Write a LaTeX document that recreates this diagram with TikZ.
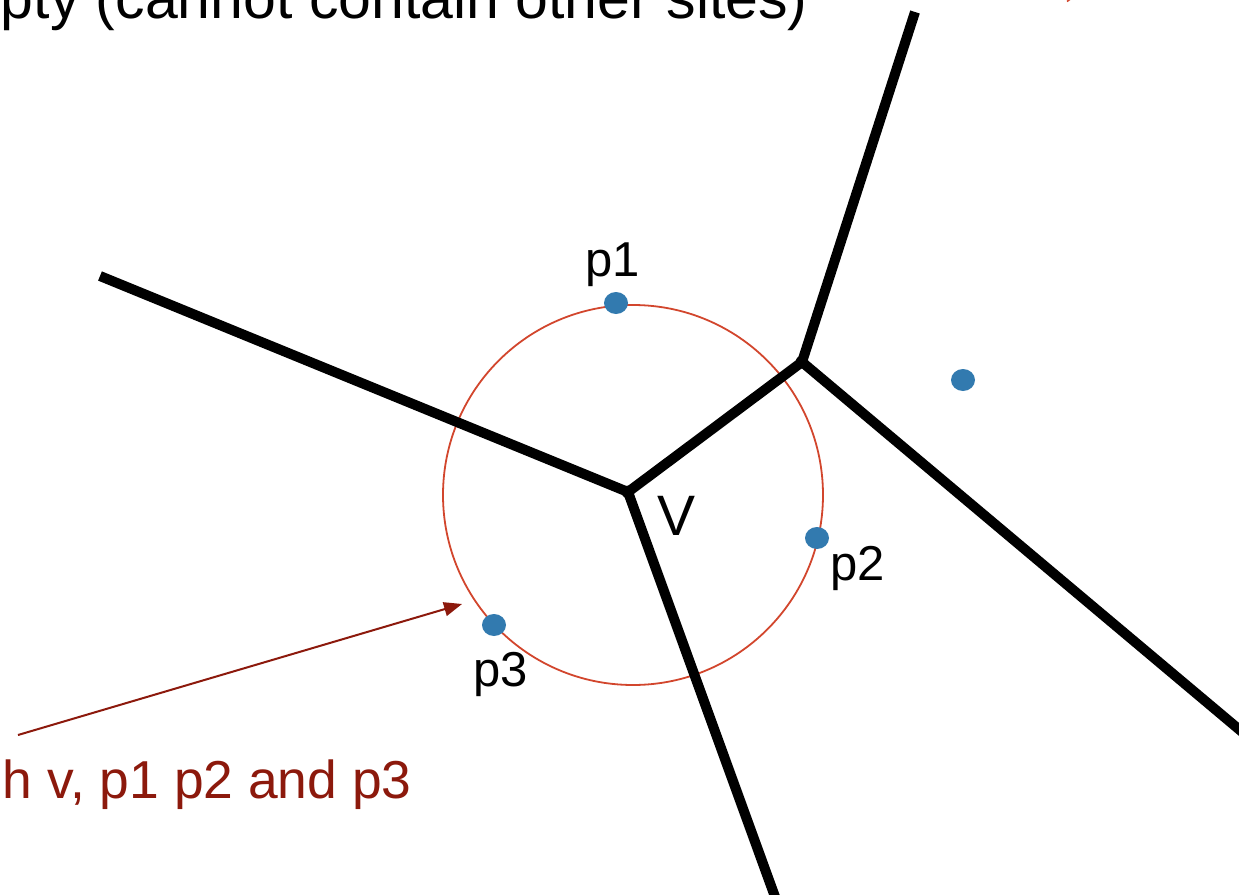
\documentclass[tikz,border=0pt]{standalone}
\usepackage{fontspec}
\setmainfont{Liberation Sans}
\usetikzlibrary{arrows.meta}
\definecolor{siteblue}{RGB}{50,122,175}
\definecolor{circred}{RGB}{210,70,45}
\definecolor{darkred}{RGB}{140,25,12}
\tikzset{
  edge/.style={line width=5pt, line cap=butt, line join=round},
  site/.style={fill=siteblue, draw=none},
  lbl/.style={inner sep=0pt, anchor=base west, font=\fontsize{24.5}{29}\selectfont},
}
\begin{document}
\begin{tikzpicture}[x=0.5pt,y=-0.5pt]
\useasboundingbox (0,0) rectangle (1239,895);
% vertices
\coordinate (v) at (628,492);
\coordinate (w) at (802,362);
\coordinate (e1) at (100,276);
\coordinate (e2) at (915,12);
\coordinate (e3) at (1260,747);
\coordinate (e4) at (778,905);
% circle
\node[draw=circred, line width=0.9pt, circle, minimum size=190pt, inner sep=0pt] (circ) at (633,495) {};
% edges
\draw[edge] (e1) -- (v) -- (w) -- (e2);
\draw[edge] (w) -- (e3);
\draw[edge] (v) -- (e4);
\fill (v) circle (3.2pt);
\fill (w) circle (3.2pt);
% sites
\fill[site] (616,303) ellipse (6pt and 5.5pt);
\fill[site] (817,538) ellipse (6pt and 5.5pt);
\fill[site] (494,625) ellipse (6pt and 5.5pt);
\fill[site] (963,380) ellipse (6pt and 5.5pt);
% labels
\node[lbl] (lp1) at (585,276) {p1};
\node[lbl] (lp2) at (830,580) {p2};
\node[lbl] (lp3) at (473,686) {p3};
\node[lbl, font=\fontsize{28.5}{33}\selectfont] (lv) at (657,535) {V};
% top text
\node[inner sep=0pt, anchor=base east, font=\fontsize{29.5}{34}\selectfont] (top) at (808,18) {pty (cannot contain other sites)};
% bottom text
\node[inner sep=0pt, anchor=base east, text=darkred, font=\fontsize{26.7}{31}\selectfont] (bot) at (412,798) {h v, p1 p2 and p3};
% arrow
\coordinate (as) at (18,735);
\coordinate (ae) at (462,604);
\draw[darkred, line width=1pt, -{Triangle[length=9pt,width=7pt]}] (as) -- (ae);
% tiny red fragment top right
\coordinate (rs) at (1067,1.5);
\coordinate (rr) at (1080,-8);
\draw[circred, line width=0.8pt] (rs) -- (rr);
\end{tikzpicture}
\end{document}
